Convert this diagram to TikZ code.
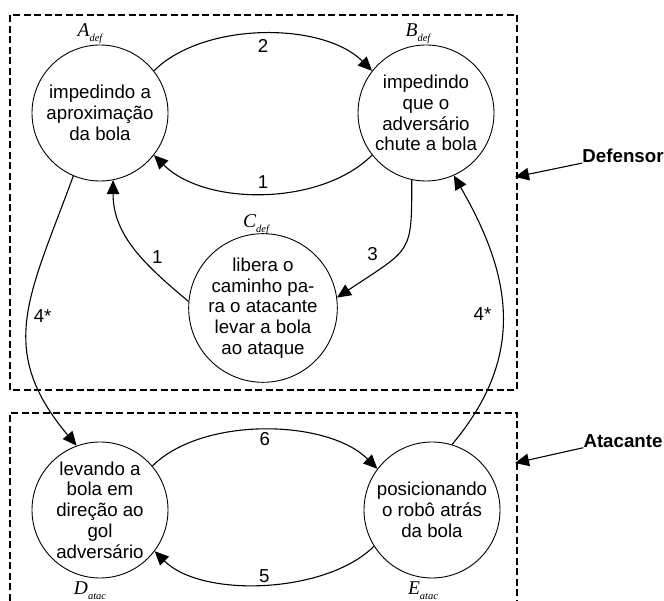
\documentclass[tikz,border=0pt]{standalone}
\usepackage{fontspec}
\setmainfont{Liberation Sans}
\newfontfamily\lblfont{Liberation Serif}
\usetikzlibrary{arrows.meta, positioning}

\newcommand{\stname}[2]{{\lblfont\itshape\fontsize{19.5}{20}\selectfont #1\raisebox{-5pt}{\fontsize{10.5}{10.5}\selectfont #2}}}

\tikzset{
  state/.style={draw, circle, line width=0.9pt, minimum size=136pt, inner sep=0pt,
    align=center, font=\fontsize{18.7}{20.8}\selectfont},
  trans/.style={line width=1.1pt, -{Triangle[length=14pt,width=12.5pt]}},
  elabel/.style={font=\fontsize{18.7}{21}\selectfont, inner sep=0pt},
  group/.style={line width=1.4pt, dash pattern=on 7pt off 3.5pt},
  grouplabel/.style={font=\bfseries\fontsize{18.7}{21}\selectfont, inner sep=0pt},
}

\begin{document}
\begin{tikzpicture}[x=1pt, y=1pt]
    \useasboundingbox (0,0) rectangle (664,601);
    % states
    \node[state] (A) at (100,488) {impedindo a\\aproximação\\da bola};
    \node[state] (B) at (426,488) {impedindo\\que o\\adversário\\chute a bola};
    \node[state] (C) at (263,293) {libera o\\caminho pa-\\ra o atacante\\levar a bola\\ao ataque};
    \node[state] (D) at (100,91) {levando a\\bola em\\direção ao\\gol\\adversário};
    \node[state] (E) at (432,91) {posicionando\\o robô atrás\\da bola};
    \node[inner sep=0pt] (Aname) at (90,567) {\stname{A}{def}};
    \node[inner sep=0pt] (Bname) at (418,567) {\stname{B}{def}};
    \node[inner sep=0pt] (Cname) at (256,376) {\stname{C}{def}};
    \node[inner sep=0pt] (Dname) at (90,10) {\stname{D}{atac}};
    \node[inner sep=0pt] (Ename) at (423,10) {\stname{E}{atac}};
    % transitions
    \draw[trans] (A.38) to[out=45, in=135, looseness=0.82] node[elabel, yshift=-12pt] {2} (B.142);
    \draw[trans] (B.218) to[out=225, in=315, looseness=0.85] node[elabel, yshift=11pt] {1} (A.322);
    \draw[trans] (B.258) .. controls +(0,-75) and +(75,50) .. (C.8)
        node[elabel, pos=0.5, xshift=-30pt, yshift=-6pt] {3};
    \draw[trans] (C.175) to[out=140, in=-90] node[elabel, xshift=22.5pt, yshift=-9pt] {1} (A.281);
    \draw[trans] (A.247) to[out=250, in=130, looseness=1.2] node[elabel, xshift=14.5pt, yshift=3pt] {4*} (D.110);
    \draw[trans] (E.73) to[out=50, in=-60, looseness=1.1] node[elabel, xshift=-20pt] {4*} (B.294);
    \draw[trans] (D.40) to[out=45, in=135, looseness=0.8] node[elabel, yshift=-9pt] {6} (E.143);
    \draw[trans] (E.212) to[out=225, in=315, looseness=0.78] node[elabel, yshift=8pt] {5} (D.323);
    % groups
    \draw[group] (10,211) rectangle (517,586);
    \draw[group] (10,0) -- (10,188) -- (517,188) -- (517,0);
    \node[grouplabel] (def) at (623,445) {Defensor};
    \node[grouplabel] (atk) at (623,160) {Atacante};
    \coordinate (deftip) at (515,424);
    \coordinate (atktip) at (515,138);
    \draw[trans] (def.south west) -- (deftip);
    \draw[trans] (atk.south west) -- (atktip);
\end{tikzpicture}
\end{document}
